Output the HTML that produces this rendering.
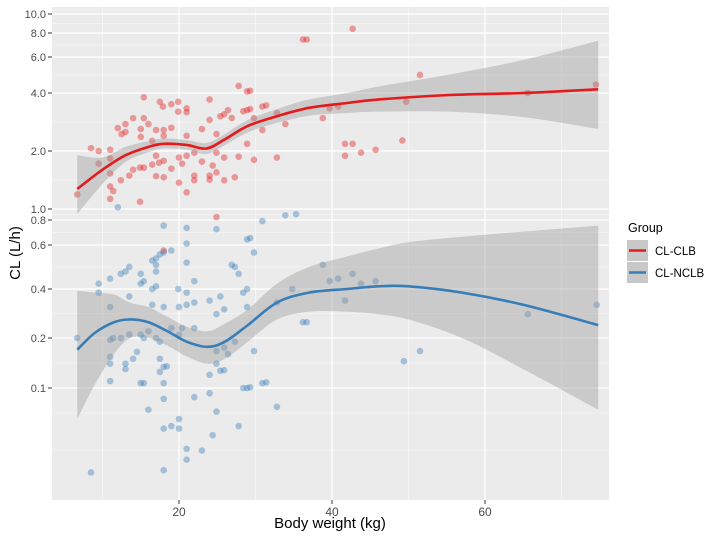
<!DOCTYPE html>
<html><head><meta charset="utf-8"><style>
body{margin:0;background:#fff;}
svg{display:block;font-family:"Liberation Sans",sans-serif;}
</style></head><body>
<svg id="chart" width="708" height="537">
<rect x="0" y="0" width="708" height="537" fill="#fff"/>
<g id="panel"></g>
</svg>
<script>
// ---- data ----
const yTickVals = [10, 8, 6, 4, 2, 1, 0.8, 0.6, 0.4, 0.2, 0.1];
const yTickLabels = ["10.0","8.0","6.0","4.0","2.0","1.0","0.8","0.6","0.4","0.2","0.1"];
const xTickVals = [20, 40, 60];
const xTickLabels = ["20","40","60"];
const xMinorVals = [10, 30, 50, 70];

const clbX = [6.7,8.5,9.5,11,9.5,11,11,11,11.4,11,12,12.5,13,13,14,15,15,15.4,15.4,16,12.4,13.5,14,14.9,15.4,14.9,16.5,17,17,17.5,17.9,19,19.9,19.9,21,21,18,17,18,16.5,19,18,17.4,18,19,20,20,20.4,21,21,21,22,22,22,23,23,24,24,24,24,24.4,24.9,24.9,24.9,25.4,25.9,26.4,26.9,25.9,25.9,27.3,27.8,27.8,28.9,29.3,28.4,28.9,29.3,28.9,29.8,29.8,30.9,31.4,30.9,32.8,32.8,33.9,36.2,36.7,38.8,39.7,40.8,42.7,41.7,42.7,41.7,43.8,45.7,49.2,49.7,51.5,65.6,74.5,24.9,18];
const clbY = [1.19,2.07,2.0,2.03,1.72,1.83,1.53,1.31,1.24,1.13,2.63,2.45,2.76,2.51,2.96,2.6,2.37,2.96,3.8,2.76,1.41,1.49,1.6,1.64,1.64,1.09,1.7,1.89,1.48,3.6,3.4,3.5,3.6,3.2,3.33,3.18,2.57,2.57,2.4,2.26,2.64,1.78,1.74,1.46,1.62,1.85,1.37,1.72,1.89,1.22,2.4,1.96,1.49,1.41,2.6,1.76,3.7,2.9,1.49,1.42,1.68,2.45,1.96,1.55,3.03,3.1,3.26,2.97,1.85,1.41,1.46,4.33,1.87,4.07,4.1,3.22,3.26,3.3,2.18,2.96,1.8,3.4,3.45,2.57,3.15,1.85,2.76,7.4,7.4,2.96,3.33,3.4,8.4,2.18,2.18,1.89,1.96,2.03,2.27,3.6,4.9,4.0,4.4,0.85,0.57];

const nclbX = [6.7,8.5,9.5,9.5,11,11,11,11,11,11,11.4,12,12.4,13,13,12.4,13,13.5,13.5,13.5,14,14.5,15,15,15.4,15,15.4,15,15.4,16,16,16.5,16.5,17,16.5,17,17.5,18,17,17,18,18,17,17.5,17.5,18,18.4,17.5,18,18,18,18,19,19,19,19.9,20,20,20,20,20.4,21,21,21,21,21,21,21,22,22,22,22,23,24,24,24,24.4,24.9,24.9,24.9,24.9,24.9,25.4,25.4,25.9,25.9,25.9,26.4,26.9,27.3,27.8,27.3,27.8,28.4,28.9,28.9,29.3,28.4,28.9,29.3,28.9,29.8,29.8,30.9,30.9,31.4,32.8,32.8,33.9,35.3,34.8,36.2,36.7,38.8,39.7,40.8,41.7,42.7,43.8,45.7,51.5,49.4,65.6,74.6];
const nclbY = [0.2,0.031,0.42,0.38,0.44,0.31,0.195,0.154,0.14,0.11,0.2,1.02,0.2,0.14,0.13,0.46,0.47,0.49,0.36,0.21,0.15,0.165,0.46,0.42,0.43,0.21,0.2,0.107,0.107,0.22,0.074,0.4,0.32,0.41,0.52,0.53,0.55,0.56,0.5,0.47,0.75,0.31,0.2,0.19,0.15,0.134,0.135,0.125,0.107,0.086,0.057,0.032,0.57,0.23,0.059,0.4,0.31,0.21,0.065,0.057,0.23,0.73,0.61,0.51,0.38,0.32,0.043,0.037,0.43,0.33,0.23,0.088,0.042,0.34,0.12,0.093,0.052,0.72,0.28,0.167,0.14,0.072,0.36,0.127,0.30,0.175,0.128,0.16,0.5,0.49,0.46,0.19,0.059,0.38,0.4,0.64,0.65,0.1,0.1,0.101,0.31,0.56,0.167,0.79,0.107,0.108,0.33,0.077,0.88,0.9,0.4,0.25,0.25,0.5,0.43,0.44,0.34,0.46,0.42,0.43,0.167,0.145,0.28,0.32];

const clbFitX = [6.7,10,13,16,18,21,23.6,26,29,32.8,37,42,46,55,65,74.8];
const clbFitY = [1.27,1.6,1.9,2.1,2.18,2.15,2.06,2.3,2.7,3.03,3.35,3.55,3.7,3.9,4.0,4.17];
const clbLo = [0.9,1.35,1.75,1.97,2.06,2.03,1.93,2.15,2.5,2.8,3.05,3.15,3.2,3.2,3.0,2.6];
const clbHi = [1.9,1.85,2.1,2.25,2.32,2.28,2.2,2.45,2.9,3.3,3.7,4.0,4.3,4.9,5.8,7.3];

const nclbFitX = [6.7,9,11.5,13.6,16,18.5,21,23.7,26,29,32.8,37,42,46,50,57,65,74.8];
const nclbFitY = [0.17,0.215,0.25,0.26,0.25,0.22,0.19,0.177,0.19,0.24,0.33,0.38,0.4,0.41,0.41,0.38,0.32,0.24];
const nclbLo = [0.065,0.105,0.16,0.2,0.2,0.18,0.155,0.14,0.15,0.19,0.26,0.29,0.29,0.28,0.26,0.2,0.13,0.074];
const nclbHi = [0.39,0.38,0.37,0.33,0.31,0.27,0.235,0.22,0.245,0.3,0.42,0.49,0.54,0.58,0.62,0.66,0.7,0.75];

// ---- axes ----
const PL=52, PR=609, PT=7, PB=500;
const tickPix = [14,33,57,93,151,209,220,245,289,338,388];
function xS(v){ return 26 + v*7.65; }
function yS(v){
  const L=Math.log(v);
  for(let i=0;i<yTickVals.length-1;i++){
    const a=Math.log(yTickVals[i]), b=Math.log(yTickVals[i+1]);
    if(L<=a && L>=b){ return tickPix[i]+(a-L)/(a-b)*(tickPix[i+1]-tickPix[i]); }
  }
  const n=yTickVals.length;
  if(L>Math.log(yTickVals[0])){
    const a=Math.log(yTickVals[0]),b=Math.log(yTickVals[1]);
    return tickPix[0]-(L-a)/(a-b)*(tickPix[1]-tickPix[0]);
  }
  const a=Math.log(yTickVals[n-2]),b=Math.log(yTickVals[n-1]);
  return tickPix[n-1]+(b-L)/(a-b)*(tickPix[n-1]-tickPix[n-2]);
}
const NS="http://www.w3.org/2000/svg";
const svg=document.getElementById('chart');
const panel=document.getElementById('panel');
function mk(tag,attrs,parent){const e=document.createElementNS(NS,tag);for(const k in attrs)e.setAttribute(k,attrs[k]);(parent||svg).appendChild(e);return e;}

let bg=mk('rect',{x:PL,y:PT,width:PR-PL,height:PB-PT,fill:'#ebebeb'},panel);


// minor y grid
const minorY=[];
for(let i=0;i<tickPix.length-1;i++) minorY.push((tickPix[i]+tickPix[i+1])/2);
minorY.push(tickPix[tickPix.length-1]+25);minorY.push(tickPix[tickPix.length-1]+62);minorY.push(PT+3);
minorY.forEach(p=>{const l=mk('line',{x1:PL,x2:PR,y1:p,y2:p,stroke:'#fafafa','stroke-width':0.6},panel);

});
xMinorVals.forEach(v=>{const l=mk('line',{x1:xS(v),x2:xS(v),y1:PT,y2:PB,stroke:'#fafafa','stroke-width':0.6},panel);

});
yTickVals.forEach((v,i)=>{const p=yS(v);const l=mk('line',{x1:PL,x2:PR,y1:p,y2:p,stroke:'#fff','stroke-width':1.2},panel);


const t=mk('line',{x1:PL-4,x2:PL,y1:p,y2:p,stroke:'#333','stroke-width':1});


const tx=mk('text',{x:PL-6,y:p+4,'text-anchor':'end','font-size':11,fill:'#4d4d4d'});tx.textContent=yTickLabels[i];

});
xTickVals.forEach((v,i)=>{const p=xS(v);const l=mk('line',{x1:p,x2:p,y1:PT,y2:PB,stroke:'#fff','stroke-width':1.2},panel);


const t=mk('line',{x1:p,x2:p,y1:PB,y2:PB+4,stroke:'#333','stroke-width':1});


const tx=mk('text',{x:p,y:PB+16,'text-anchor':'middle','font-size':12,fill:'#4d4d4d'});tx.textContent=xTickLabels[i];

});

function drawPoints(xs,ys,col,name){xs.forEach((x,i)=>{const c=mk('circle',{cx:xS(x),cy:yS(ys[i]),r:3.3,fill:col,'fill-opacity':0.4},panel);

});}
drawPoints(clbX,clbY,'#e41a1c','point-cl-clb');
drawPoints(nclbX,nclbY,'#377eb8','point-cl-nclb');

function smoothPath(pts){let d='M'+pts[0][0]+','+pts[0][1];
for(let i=0;i<pts.length-1;i++){const p0=pts[Math.max(0,i-1)],p1=pts[i],p2=pts[i+1],p3=pts[Math.min(pts.length-1,i+2)];
d+=' C'+(p1[0]+(p2[0]-p0[0])/6)+','+(p1[1]+(p2[1]-p0[1])/6)+' '+(p2[0]-(p3[0]-p1[0])/6)+','+(p2[1]-(p3[1]-p1[1])/6)+' '+p2[0]+','+p2[1];}
return d;}
function drawFit(xs,ys,lo,hi,col,name){
  const up=xs.map((x,i)=>[xS(x),yS(hi[i])]);
  const dn=xs.map((x,i)=>[xS(x),yS(lo[i])]).reverse();
  let d=smoothPath(up)+' L'+dn[0][0]+','+dn[0][1]+smoothPath(dn).replace(/^M[^ ]+/,'')+' Z';
  const b=mk('path',{d:d,fill:'#999999','fill-opacity':0.4},panel);
  
  
  const l=mk('path',{d:smoothPath(xs.map((x,i)=>[xS(x),yS(ys[i])])),fill:'none',stroke:col,'stroke-width':2.6},panel);
  
  
}
drawFit(clbFitX,clbFitY,clbLo,clbHi,'#e41a1c','cl-clb');
drawFit(nclbFitX,nclbFitY,nclbLo,nclbHi,'#377eb8','cl-nclb');
</script>
<svg width="0" height="0" style="position:absolute"></svg>
<script>
(function(){
const NS="http://www.w3.org/2000/svg";const svg=document.getElementById('chart');
function mk(tag,attrs){const e=document.createElementNS(NS,tag);for(const k in attrs)e.setAttribute(k,attrs[k]);svg.appendChild(e);return e;}
let t=mk('text',{x:330,y:528,'text-anchor':'middle','font-size':15,fill:'#000'});t.textContent='Body weight (kg)';


t=mk('text',{x:0,y:0,'text-anchor':'middle','font-size':15,fill:'#000',transform:'translate(20,253) rotate(-90)'});t.textContent='CL (L/h)';


t=mk('text',{x:628,y:232,'font-size':12.5,fill:'#000'});t.textContent='Group';


[['#e41a1c','CL-CLB',240],['#377eb8','CL-NCLB',262]].forEach(([c,lab,y])=>{
  const r=mk('rect',{x:627,y:y,width:21,height:21,fill:'#c8c8c8'});
  
  
  const l=mk('line',{x1:629,x2:646,y1:y+10.5,y2:y+10.5,stroke:c,'stroke-width':2.6});
  
  
  const tx=mk('text',{x:655,y:y+15,'font-size':11.5,fill:'#000'});tx.textContent=lab;
  
  
});
})();
</script>
</body></html>
